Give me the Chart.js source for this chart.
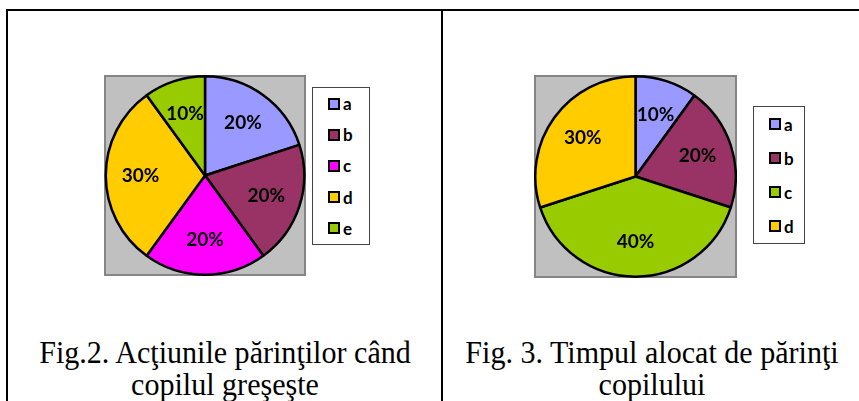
<!DOCTYPE html>
<html>
<head>
<meta charset="utf-8">
<script src="https://cdn.jsdelivr.net/npm/chart.js@4"></script>
<style>
  body { margin: 0; width: 859px; height: 401px; background: #fff; position: relative; overflow: hidden; }
  .line { position: absolute; background: #000; }
  .plot { position: absolute; background: #c0c0c0; box-sizing: border-box; border: 2px solid #858585; }
  .plot canvas { position: absolute; left: -2px; top: -2px; }
  .legend { position: absolute; box-sizing: border-box; border: 1px solid #444; background: #fff;
            display: flex; flex-direction: column; justify-content: space-around; padding-left: 15px; }
  .item { display: flex; align-items: center; font: bold 17px Lato, sans-serif; color: #000; }
  .sw { width: 12px; height: 12px; box-sizing: border-box; border: 2px solid #000; margin-right: 3px; }
  .cap { position: absolute; font: 31px "Liberation Serif", "Times New Roman", serif; line-height: 32px;
         text-align: center; white-space: nowrap; transform: scaleX(0.97); transform-origin: center top; }
</style>
</head>
<body>
<div class="line" style="left:6px;top:9px;width:853px;height:2px"></div>
<div class="line" style="left:6px;top:9px;width:2px;height:392px"></div>
<div class="line" style="left:441px;top:9px;width:2px;height:392px"></div>

<div class="plot" style="left:104px;top:75px;width:202px;height:201px"><canvas id="pie1" width="202" height="201"></canvas></div>
<div class="legend" id="leg1" style="left:312px;top:87px;width:58px;height:158px"></div>

<div class="plot" style="left:534px;top:75px;width:203px;height:203px"><canvas id="pie2" width="203" height="203"></canvas></div>
<div class="legend" id="leg2" style="left:753px;top:106px;width:52px;height:138px"></div>

<div class="cap" style="left:25px;top:337px;width:400px">Fig.2. Acţiunile părinţilor când<br>copilul greşeşte</div>
<div class="cap" style="left:452px;top:337px;width:400px">Fig. 3. Timpul alocat de părinţi<br>copilului</div>

<script>
// Fig.2 – actiunile parintilor
var labels1 = ['a', 'b', 'c', 'd', 'e'];
var values1 = [20, 20, 20, 30, 10];
var colors1 = ['#9999ff', '#993366', '#ff00ff', '#ffcc00', '#99cc00'];

// Fig.3 – timpul alocat
var labels2 = ['a', 'b', 'c', 'd'];
var values2 = [10, 20, 40, 30];
var colors2 = ['#9999ff', '#993366', '#99cc00', '#ffcc00'];

// procentele in felii
var pctLabels = {
  id: 'pctLabels',
  afterDatasetsDraw: function(chart) {
    var ctx = chart.ctx;
    var ds = chart.data.datasets[0];
    var tot = ds.data.reduce(function(a, b) { return a + b; }, 0);
    ctx.save();
    ctx.font = 'bold 19px Lato, sans-serif';
    ctx.fillStyle = '#000';
    ctx.textAlign = 'center';
    ctx.textBaseline = 'middle';
    chart.getDatasetMeta(0).data.forEach(function(arc, i) {
      var p = arc.getProps(['x', 'y', 'startAngle', 'endAngle', 'outerRadius'], true);
      var mid = (p.startAngle + p.endAngle) / 2;
      var r = p.outerRadius * 0.65;
      ctx.fillText(Math.round(ds.data[i] / tot * 100) + '%', p.x + Math.cos(mid) * r, p.y + Math.sin(mid) * r);
    });
    ctx.restore();
  }
};

function makePie(id, labels, values, colors) {
  new Chart(document.getElementById(id), {
    type: 'pie',
    data: {
      labels: labels,
      datasets: [{
        data: values,
        backgroundColor: colors,
        borderColor: '#000',
        borderWidth: 2.5
      }]
    },
    options: {
      responsive: false,
      animation: false,
      layout: { padding: 0 },
      plugins: { legend: { display: false }, tooltip: { enabled: false } }
    },
    plugins: [pctLabels]
  });
}

function makeLegend(id, labels, colors) {
  var box = document.getElementById(id);
  for (var i = 0; i < labels.length; i++) {
    var it = document.createElement('div');
    it.className = 'item';
    var sw = document.createElement('span');
    sw.className = 'sw';
    sw.style.background = colors[i];
    it.appendChild(sw);
    it.appendChild(document.createTextNode(labels[i]));
    box.appendChild(it);
  }
}

makePie('pie1', labels1, values1, colors1);
makePie('pie2', labels2, values2, colors2);
makeLegend('leg1', labels1, colors1);
makeLegend('leg2', labels2, colors2);
</script>
</body>
</html>
